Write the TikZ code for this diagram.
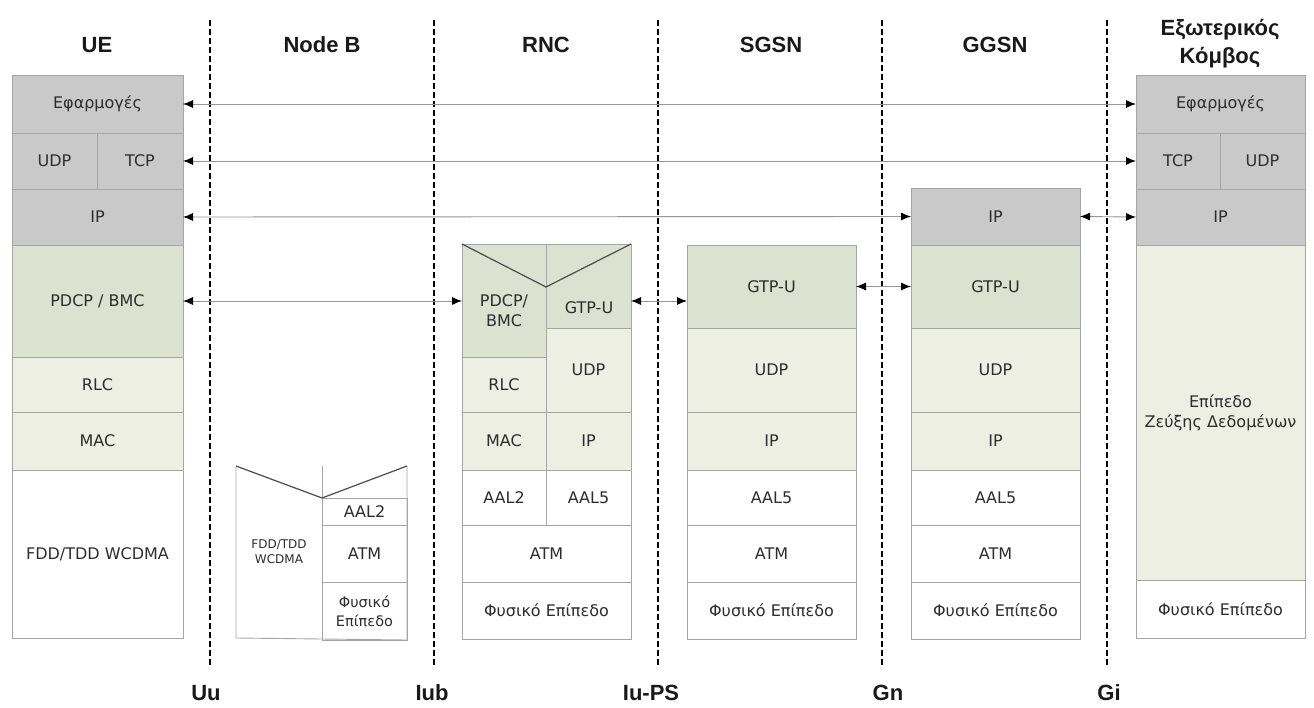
\documentclass[tikz,border=0pt]{standalone}
\usepackage{fontspec}
\setmainfont{DejaVu Sans}
\newfontfamily\headfont{Liberation Sans}
\usetikzlibrary{arrows.meta}

\definecolor{stackgrey}{RGB}{201,201,201}
\definecolor{darkgreen}{RGB}{221,226,208}
\definecolor{lightgreen}{RGB}{237,239,227}
\definecolor{cellborder}{RGB}{165,165,165}
\definecolor{celltext}{RGB}{45,45,45}
\definecolor{linkgrey}{RGB}{150,150,150}

\newcommand\cellsize{\fontsize{16}{20}\selectfont}
\newcommand\narrowcell{\fontsize{14.5}{19}\selectfont}
\newcommand\smallcell{\fontsize{12}{15}\selectfont}
\newcommand\headsize{\headfont\bfseries\fontsize{22}{28}\selectfont}

\tikzset{
  layer/.style={draw=cellborder, line width=0.9pt, inner sep=0pt, outer sep=0pt,
    text=celltext, font=\cellsize, align=center},
  celllabel/.style={inner sep=0pt, text=celltext, font=\cellsize, align=center},
  cellline/.style={draw=cellborder, line width=0.9pt},
  vee/.style={draw=black!70, line width=1.2pt},
  head/.style={inner sep=0pt, text=black!90, font=\headsize, align=center},
  iflabel/.style={inner sep=0pt, text=black!90, font=\headsize},
  divider/.style={draw=black, line width=1.6pt, dash pattern=on 6pt off 3pt},
  link/.style={draw=linkgrey, line width=0.9pt,
    {Latex[length=10pt,width=8pt,color=black]}-{Latex[length=10pt,width=8pt,color=black]}},
}

% one layer of a protocol stack: name, x1, y1, x2, y2, fill, text
\newcommand\stacklayer[7]{%
  \node[layer, fill=#6, minimum width={(#4-#2)*1pt}, minimum height={(#5-#3)*1pt}]
    (#1) at ({(#2+#4)/2},{(#3+#5)/2}) {#7};}

\begin{document}
\begin{tikzpicture}[x=1pt, y=-1pt]
\path[use as bounding box, fill=white] (0,0) rectangle (1314,708);

% interface boundaries
\draw[divider] (210,20) -- (210,667);
\draw[divider] (434,20) -- (434,667);
\draw[divider] (658,20) -- (658,667);
\draw[divider] (882,20) -- (882,667);
\draw[divider] (1107,20) -- (1107,667);

\node[iflabel] (if-uu) at (206,693) {Uu};
\node[iflabel] (if-iub) at (432,693) {Iub};
\node[iflabel] (if-iups) at (651,693) {Iu-PS};
\node[iflabel] (if-gn) at (888,693) {Gn};
\node[iflabel] (if-gi) at (1109,693) {Gi};

% column headings
\node[head] (h-ue) at (97,45) {UE};
\node[head] (h-nodeb) at (322,45) {Node B};
\node[head] (h-rnc) at (546,45) {RNC};
\node[head] (h-sgsn) at (771,45) {SGSN};
\node[head] (h-ggsn) at (995,45) {GGSN};
\node[head] (h-ext) at (1220,44) {Εξωτερικός\\Κόμβος};

% UE
\stacklayer{ue-app}{12}{75}{183}{133}{stackgrey}{Εφαρμογές}
\stacklayer{ue-udp}{12}{133}{97}{189}{stackgrey}{UDP}
\stacklayer{ue-tcp}{97}{133}{183}{189}{stackgrey}{TCP}
\stacklayer{ue-ip}{12}{189}{183}{245}{stackgrey}{IP}
\stacklayer{ue-pdcp}{12}{245}{183}{357}{darkgreen}{PDCP / BMC}
\stacklayer{ue-rlc}{12}{357}{183}{412}{lightgreen}{RLC}
\stacklayer{ue-mac}{12}{412}{183}{470}{lightgreen}{MAC}
\stacklayer{ue-phy}{12}{470}{183}{638}{white}{FDD/TDD WCDMA}

% Node B
\stacklayer{nb-aal2}{322}{498}{407}{525}{white}{AAL2}
\stacklayer{nb-atm}{322}{525}{407}{582}{white}{ATM}
\node[layer, fill=white, minimum width=85pt, minimum height=58pt, font=\narrowcell]
  (nb-phy) at (364.5,611) {Φυσικό\\Επίπεδο};
\node[layer, draw=none, minimum width=86pt, minimum height=172pt, font=\smallcell]
  (nb-radio) at (279,552) {FDD/TDD\\WCDMA};
\draw[cellline] (nb-radio.north west) -- (nb-radio.south west) -- (nb-phy.south east)
  -- (nb-aal2.north east) -- (nb-aal2.north east |- nb-radio.north);
\draw[cellline] (nb-radio.north east) -- (nb-radio.south east);
\draw[vee] (nb-radio.north west) -- (nb-aal2.north west) -- (nb-aal2.north east |- nb-radio.north);

% RNC
\stacklayer{rnc-pdcp}{462}{244}{546}{357}{darkgreen}{}
\stacklayer{rnc-gtp}{546}{244}{631}{328}{darkgreen}{}
\stacklayer{rnc-rlc}{462}{357}{546}{412}{lightgreen}{RLC}
\stacklayer{rnc-udp}{546}{328}{631}{412}{lightgreen}{UDP}
\stacklayer{rnc-mac}{462}{412}{546}{470}{lightgreen}{MAC}
\stacklayer{rnc-ip}{546}{412}{631}{470}{lightgreen}{IP}
\stacklayer{rnc-aal2}{462}{470}{546}{525}{white}{AAL2}
\stacklayer{rnc-aal5}{546}{470}{631}{525}{white}{AAL5}
\stacklayer{rnc-atm}{462}{525}{631}{582}{white}{ATM}
\stacklayer{rnc-phy}{462}{582}{631}{639}{white}{Φυσικό Επίπεδο}
\coordinate (rnc-vee) at (546,287);
\draw[vee] (rnc-pdcp.north west) -- (rnc-vee) -- (rnc-gtp.north east);
\node[celllabel] (rnc-pdcp-text) at (504,311) {PDCP/\\BMC};
\node[celllabel] (rnc-gtp-text) at (589,308) {GTP-U};

% SGSN
\stacklayer{sgsn-gtp}{687}{245}{856}{328}{darkgreen}{GTP-U}
\stacklayer{sgsn-udp}{687}{328}{856}{412}{lightgreen}{UDP}
\stacklayer{sgsn-ip}{687}{412}{856}{470}{lightgreen}{IP}
\stacklayer{sgsn-aal5}{687}{470}{856}{525}{white}{AAL5}
\stacklayer{sgsn-atm}{687}{525}{856}{582}{white}{ATM}
\stacklayer{sgsn-phy}{687}{582}{856}{639}{white}{Φυσικό Επίπεδο}

% GGSN
\stacklayer{ggsn-ipt}{911}{188}{1080}{245}{stackgrey}{IP}
\stacklayer{ggsn-gtp}{911}{245}{1080}{328}{darkgreen}{GTP-U}
\stacklayer{ggsn-udp}{911}{328}{1080}{412}{lightgreen}{UDP}
\stacklayer{ggsn-ip}{911}{412}{1080}{470}{lightgreen}{IP}
\stacklayer{ggsn-aal5}{911}{470}{1080}{525}{white}{AAL5}
\stacklayer{ggsn-atm}{911}{525}{1080}{582}{white}{ATM}
\stacklayer{ggsn-phy}{911}{582}{1080}{639}{white}{Φυσικό Επίπεδο}

% external node
\stacklayer{ext-app}{1136}{75}{1305}{133}{stackgrey}{Εφαρμογές}
\stacklayer{ext-tcp}{1136}{133}{1220}{189}{stackgrey}{TCP}
\stacklayer{ext-udp}{1220}{133}{1305}{189}{stackgrey}{UDP}
\stacklayer{ext-ip}{1136}{189}{1305}{245}{stackgrey}{IP}
\stacklayer{ext-link}{1136}{245}{1305}{580}{lightgreen}{Επίπεδο\\Ζεύξης Δεδομένων}
\stacklayer{ext-phy}{1136}{580}{1305}{638}{white}{Φυσικό Επίπεδο}

% peer-to-peer relations
\draw[link] (ue-app.east) -- (ext-app.west);
\draw[link] (ue-tcp.east) -- (ext-tcp.west);
\draw[link] (ue-ip.east) -- (ggsn-ipt.west);
\draw[link] (ggsn-ipt.east) -- (ext-ip.west);
\draw[link] (ue-pdcp.east) -- (ue-pdcp.east -| rnc-pdcp.west);
\draw[link] (rnc-gtp.east |- ue-pdcp.east) -- (sgsn-gtp.west |- ue-pdcp.east);
\draw[link] (sgsn-gtp.east) -- (ggsn-gtp.west);
\end{tikzpicture}
\end{document}
